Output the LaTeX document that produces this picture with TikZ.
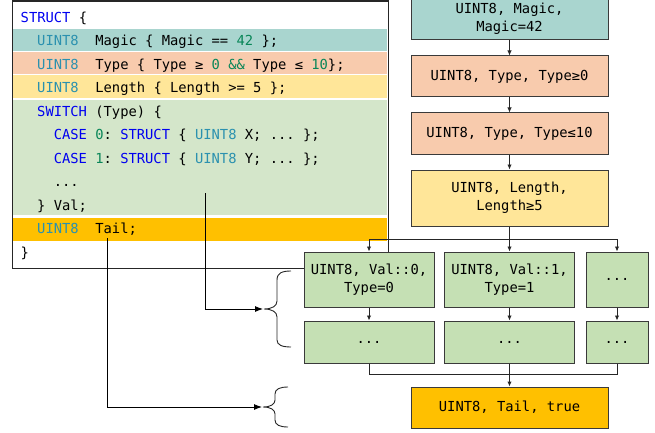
\documentclass[tikz,border=0pt]{standalone}
\usepackage{fontspec}
\setmonofont{DejaVu Sans Mono}
\usetikzlibrary{arrows.meta}

\definecolor{kwblue}{HTML}{0000F0}
\definecolor{tyteal}{HTML}{2B91AF}
\definecolor{numgreen}{HTML}{098658}
\definecolor{magicfill}{HTML}{A9D5CF}
\definecolor{typefill}{HTML}{F8CBAD}
\definecolor{lenfill}{HTML}{FFE699}
\definecolor{casefill}{HTML}{D4E6CA}
\definecolor{boxgreen}{HTML}{C5E0B4}
\definecolor{tailfill}{HTML}{FFC000}
\definecolor{edge}{HTML}{3A3A3A}

\newcommand{\kw}[1]{\textcolor{kwblue}{#1}}
\newcommand{\ty}[1]{\textcolor{tyteal}{#1}}
\newcommand{\nm}[1]{\textcolor{numgreen}{#1}}

\tikzset{
  codeline/.style={anchor=base west, inner sep=0pt,
    font=\ttfamily\fontsize{13.8}{16}\selectfont},
  flowbox/.style={draw=edge, line width=1pt, inner sep=0pt, align=center,
    font=\ttfamily\fontsize{13.8}{18}\selectfont},
  conn/.style={line width=0.9pt, draw=black!85},
  arr/.style={conn, -{Latex[length=5pt,width=4.5pt]}},
  bigarr/.style={line width=0.9pt, -{Latex[length=8pt,width=6pt]}},
  bracepath/.style={line width=0.9pt, draw=black!85},
}

\begin{document}
\begin{tikzpicture}[x=1pt,y=-1pt]
\useasboundingbox (0,0) rectangle (655,433);

% frame of the structure listing
\node[draw=black!85, line width=1.2pt, minimum width=376pt, minimum height=267.5pt,
  inner sep=0pt, anchor=north west] (sbox) at (12,0.5) {};

% highlighted rows
\fill[magicfill] (12.6,29)   rectangle (387.4,51.2);
\fill[typefill]  (12.6,52)   rectangle (387.4,74);
\fill[lenfill]   (12.6,75)   rectangle (387.4,98.4);
\fill[casefill]  (12.6,99.6) rectangle (387.4,215);
\fill[tailfill]  (12.6,218)  rectangle (387.4,240.5);

% listing text
\node[codeline] (l0)  at (20.5,22.3)  {\kw{STRUCT} \{};
\node[codeline] (l1)  at (37,45.8)    {\ty{UINT8}~~Magic \{ Magic == \nm{42} \};};
\node[codeline] (l2)  at (37,69.3)    {\ty{UINT8}~~Type \{ Type ≥ \nm{0} \nm{\&\&} Type ≤ \nm{10}\};};
\node[codeline] (l3)  at (37,92.8)    {\ty{UINT8}~~Length \{ Length >= 5 \};};
\node[codeline] (l4)  at (37,116.3)   {\kw{SWITCH} (Type) \{};
\node[codeline] (l5)  at (53.6,139.8) {\kw{CASE} \nm{0}: \kw{STRUCT} \{ \ty{UINT8} X; ... \};};
\node[codeline] (l6)  at (53.6,163.3) {\kw{CASE} \nm{1}: \kw{STRUCT} \{ \ty{UINT8} Y; ... \};};
\node[codeline] (l7)  at (53.6,186.8) {...};
\node[codeline] (l8)  at (37,210.3)   {\} Val;};
\node[codeline] (l9)  at (37,233.8)   {\ty{UINT8}~~Tail;};
\node[codeline] (l10) at (20.5,257.3) {\}};

% anchors of the two pointers
\coordinate (valsrc)  at (205.5,193);
\coordinate (tailsrc) at (107,238);
\coordinate (b1tip)   at (263,309);
\coordinate (b2tip)   at (262,407);

% braces
\draw[bracepath] (291,271) .. controls (282,271) and (277,273) .. (277,280)
  -- (277,301) .. controls (277,306) and (272,309) .. (264,309)
  .. controls (272,309) and (277,312) .. (277,317)
  -- (277,340) .. controls (277,345) and (282,347) .. (291,347);
\draw[bracepath] (288,387) .. controls (280,387) and (275,389) .. (275,394)
  -- (275,400) .. controls (275,404) and (271,407) .. (263,407)
  .. controls (271,407) and (275,410) .. (275,414)
  -- (275,420) .. controls (275,425) and (280,427) .. (288,427);

\draw[bigarr] (valsrc) |- (b1tip);
\draw[bigarr] (tailsrc) |- (b2tip);

% field chain
\node[flowbox, fill=magicfill, minimum width=197pt, minimum height=42pt] (magic) at (509.5,19)
  {UINT8, Magic,\\Magic=42};
\node[flowbox, fill=typefill, minimum width=197pt, minimum height=41pt] (tlo) at (509.5,76.5)
  {UINT8, Type, Type≥0};
\node[flowbox, fill=typefill, minimum width=197pt, minimum height=41pt] (thi) at (509.5,133.5)
  {UINT8, Type, Type≤10};
\node[flowbox, fill=lenfill, minimum width=197pt, minimum height=56pt] (len) at (509.5,198)
  {UINT8, Length,\\Length≥5};

% switch branches
\node[flowbox, fill=boxgreen, minimum width=130pt, minimum height=55pt] (v0) at (369,279.5)
  {UINT8, Val::0,\\Type=0};
\node[flowbox, fill=boxgreen, minimum width=130pt, minimum height=55pt] (v1) at (509.5,279.5)
  {UINT8, Val::1,\\Type=1};
\node[flowbox, fill=boxgreen, minimum width=62pt, minimum height=55pt] (v2) at (617,279.5)
  {...};
\node[flowbox, fill=boxgreen, minimum width=130pt, minimum height=42pt] (d0) at (369,342)
  {...};
\node[flowbox, fill=boxgreen, minimum width=130pt, minimum height=42pt] (d1) at (509.5,342)
  {...};
\node[flowbox, fill=boxgreen, minimum width=62pt, minimum height=42pt] (d2) at (617,342)
  {...};

\node[flowbox, fill=tailfill, minimum width=197pt, minimum height=41pt] (tail) at (509.5,407.5)
  {UINT8, Tail, true};

% connectors
\draw[arr] (magic) -- (tlo);
\draw[arr] (tlo) -- (thi);
\draw[arr] (thi) -- (len);

\coordinate (split) at (509.5,239);
\draw[conn, line width=1.6pt] (len.south) -- (split);
\draw[arr] (split) -| (v0.north);
\draw[arr] (split) -- (v1.north);
\draw[arr] (split) -| (v2.north);

\draw[arr] (v0) -- (d0);
\draw[arr] (v1) -- (d1);
\draw[arr] (v2) -- (d2);

\coordinate (merge) at (509.5,374);
\draw[conn] (d0.south) |- (merge);
\draw[conn] (d2.south) |- (merge);
\draw[arr, line width=1.6pt] (d1.south) -- (tail.north);
\end{tikzpicture}
\end{document}
